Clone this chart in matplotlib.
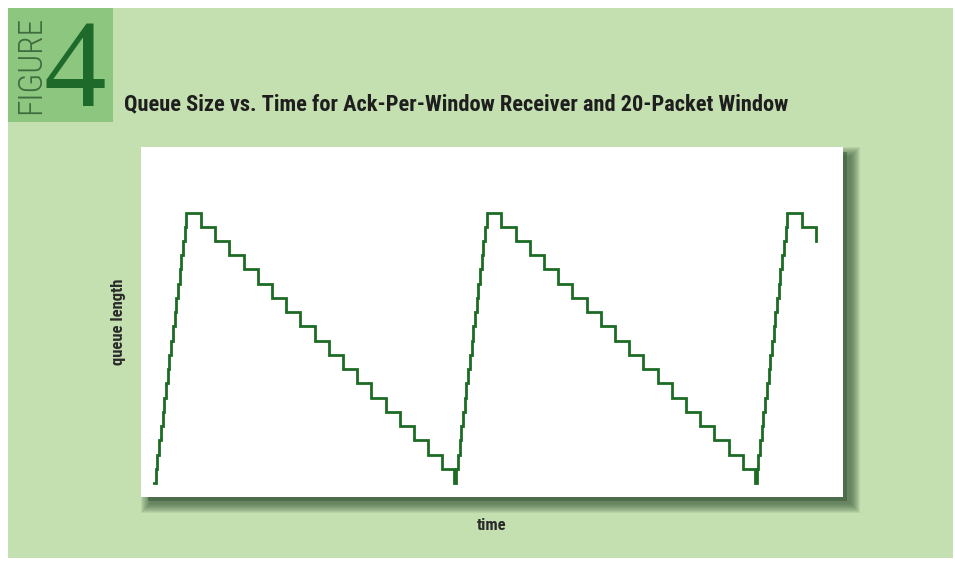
import matplotlib.pyplot as plt
from matplotlib.patches import Rectangle

W, H = 955, 563

# time in packet-service units, queue in packets
time = [
    0.00, 0.12, 0.24, 0.36, 0.48, 0.60, 0.72, 0.84, 0.96, 1.08,
    1.20, 1.32, 1.44, 1.56, 1.68, 1.80, 1.92, 2.04, 2.16, 2.28,
    3.3, 4.3, 5.3, 6.3, 7.3, 8.3, 9.3, 10.3, 11.3, 12.3,
    13.3, 14.3, 15.3, 16.3, 17.3, 18.3, 19.3, 20.3,
    21.15, 21.27, 21.39, 21.51, 21.63, 21.75, 21.87, 21.99, 22.11, 22.23,
    22.35, 22.47, 22.59, 22.71, 22.83, 22.95, 23.07, 23.19, 23.31, 23.43,
    24.45, 25.45, 26.45, 27.45, 28.45, 29.45, 30.45, 31.45, 32.45, 33.45,
    34.45, 35.45, 36.45, 37.45, 38.45, 39.45, 40.45, 41.45,
    42.30, 42.42, 42.54, 42.66, 42.78, 42.90, 43.02, 43.14, 43.26, 43.38,
    43.50, 43.62, 43.74, 43.86, 43.98, 44.10, 44.22, 44.34, 44.46, 44.58,
    45.62, 46.62,
]
queue = [
    0, 1, 2, 3, 4, 5, 6, 7, 8, 9,
    10, 11, 12, 13, 14, 15, 16, 17, 18, 19,
    18, 17, 16, 15, 14, 13, 12, 11, 10, 9,
    8, 7, 6, 5, 4, 3, 2, 1,
    0, 1, 2, 3, 4, 5, 6, 7, 8, 9,
    10, 11, 12, 13, 14, 15, 16, 17, 18, 19,
    18, 17, 16, 15, 14, 13, 12, 11, 10, 9,
    8, 7, 6, 5, 4, 3, 2, 1,
    0, 1, 2, 3, 4, 5, 6, 7, 8, 9,
    10, 11, 12, 13, 14, 15, 16, 17, 18, 19,
    18, 17,
]

title = "Queue Size vs. Time for Ack-Per-Window Receiver and 20-Packet Window"
cond = ['Roboto Condensed', 'DejaVu Sans']
serif = ['Liberation Serif', 'Noto Serif', 'DejaVu Serif']


def fx(x):
    return x / W


def fy(y):
    return 1 - y / H


def rect(x0, y0, x1, y1, **kw):
    # pixel box -> figure rectangle
    return Rectangle((fx(x0), fy(y1)), (x1 - x0) / W, (y1 - y0) / H,
                     transform=fig.transFigure, **kw)


fig = plt.figure(figsize=(W / 100, H / 100), dpi=100)
fig.patch.set_facecolor('white')

fig.patches.append(rect(8, 8, 953, 558, facecolor='#c4e0b0', edgecolor='none', zorder=-10))
fig.patches.append(rect(8, 8, 113, 122, facecolor='#8dc67e', edgecolor='none', zorder=-9))

# soft drop shadow behind the plot area
for k in range(10, 0, -1):
    fig.patches.append(rect(141 + 10 - k, 147 + 10 - k, 843 + 7 + k, 497 + 6 + k,
                            facecolor='#3b5a3b', edgecolor='none', alpha=0.10, zorder=-8))
fig.patches.append(rect(148, 152, 847, 501, facecolor='#3b5a3b', edgecolor='none',
                        alpha=0.55, zorder=-7))

fig.text(fx(75), fy(106), "4", family=serif, fontsize=90,
         color='#1d6a2b', ha='center', va='baseline')
fig.text(fx(31), fy(65), "FIGURE", family=cond, fontweight='light', fontstretch='condensed',
         fontsize=24, rotation=90, color='#3f6b40', ha='center', va='center')
fig.text(fx(124), fy(110), title, family=cond, fontstretch='condensed', fontsize=16.1,
         fontweight='bold', color='#1e1e1e', ha='left', va='baseline')
fig.text(fx(118), fy(322), "queue length", family=cond, fontstretch='condensed',
         fontsize=12, fontweight='bold', color='#2a2a2a', rotation=90,
         ha='center', va='center')
fig.text(fx(492), fy(525), "time", family=cond, fontstretch='condensed', fontsize=12,
         fontweight='bold', color='#2a2a2a', ha='center', va='center')

ax = fig.add_axes([fx(141), fy(497), (843 - 141) / W, (497 - 147) / H])
ax.set_facecolor('white')
ax.plot(time, queue, drawstyle='steps-post', color='#1c6b25', lw=2.0,
        solid_joinstyle='miter')
ax.set_xlim(-0.92, 48.5)
ax.set_ylim(-0.98, 23.6)
ax.set_xticks([])
ax.set_yticks([])
for s in ax.spines.values():
    s.set_visible(False)

fig.savefig('out.png', dpi=100, facecolor=fig.get_facecolor())
